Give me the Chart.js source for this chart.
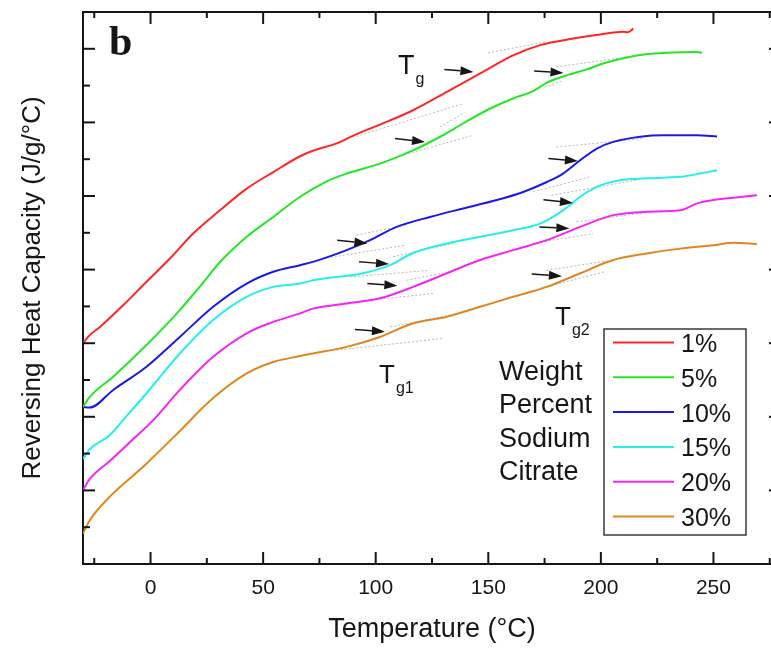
<!DOCTYPE html>
<html>
<head>
<meta charset="utf-8">
<script src="https://cdn.jsdelivr.net/npm/chart.js@4.4.1/dist/chart.umd.min.js"></script>
<style>
  html, body { margin: 0; padding: 0; background: #fff; overflow: hidden; }
  #wrap { width: 782px; height: 649px; }
</style>
</head>
<body>
<div id="wrap"><canvas id="chart" width="782" height="649"></canvas></div>
<script>
// weight percent of sodium citrate, one curve each: [temperature °C, reversing Cp]
const seriesLabels = ['1%', '5%', '10%', '15%', '20%', '30%']
const seriesColors = ['#ff2626', '#26e626', '#1a1ae6', '#26eeee', '#f426f4', '#e0861e']

const cp1 = [[-30, 6.00], [-27, 6.22], [-22.5, 6.44], [-12.2, 7.03], [-1.8, 7.67], [8.6, 8.30], [18.9, 8.98],
  [30.8, 9.61], [42.7, 10.20], [54.5, 10.65], [66.4, 11.08], [72.1, 11.23], [82.7, 11.43], [88.6, 11.60],
  [93, 11.72], [101.9, 11.94], [116.6, 12.33], [131.6, 12.83], [146.4, 13.33], [161, 13.82], [173, 14.10],
  [187.7, 14.28], [199.7, 14.39], [209.9, 14.46], [212.1, 14.45], [214.4, 14.55]]
const cp5 = [[-30, 4.27], [-27, 4.54], [-16.6, 5.09], [-1.8, 5.95], [13, 6.90], [21.9, 7.54], [30.8, 8.20],
  [42.7, 8.89], [54.5, 9.43], [66.4, 9.98], [78.3, 10.40], [87.1, 10.61], [101.9, 10.88], [116.6, 11.24],
  [128.6, 11.61], [138.8, 11.97], [149.3, 12.33], [161, 12.65], [169.9, 12.85], [176, 13.08], [184.9, 13.28],
  [193.8, 13.44], [201, 13.60], [216, 13.82], [229.3, 13.89], [242.7, 13.91], [244.9, 13.89]]
const cp10 = [[-30, 4.27], [-27, 4.25], [-16.6, 4.73], [-1.8, 5.36], [13, 6.17], [27.8, 6.99], [42.7, 7.62],
  [54.5, 7.94], [66.4, 8.12], [72.1, 8.21], [87.1, 8.53], [97.5, 8.80], [109.3, 9.16], [124.1, 9.43],
  [138.8, 9.66], [153.8, 9.89], [165.5, 10.11], [176, 10.38], [183.2, 10.61], [190.8, 10.97], [198.2, 11.29],
  [205.5, 11.47], [217.5, 11.61], [227.7, 11.65], [242.7, 11.65], [251.6, 11.62]]
const cp15 = [[-30, 2.85], [-27, 3.12], [-18.1, 3.50], [-12.2, 3.91], [-1.8, 4.64], [13, 5.72], [27.8, 6.63],
  [42.7, 7.26], [54.5, 7.53], [66.4, 7.62], [72.1, 7.71], [94.4, 7.90], [106.4, 8.12], [116.6, 8.45],
  [131.6, 8.71], [146.4, 8.89], [161, 9.07], [173, 9.25], [183.2, 9.61], [190.8, 9.98], [198.2, 10.25],
  [208.6, 10.43], [220.4, 10.48], [235.2, 10.52], [244.1, 10.61], [251.6, 10.70]]
const cp20 = [[-30, 2.01], [-27, 2.31], [-18.1, 2.80], [-9.2, 3.31], [1.2, 3.91], [13, 4.73], [27.8, 5.63],
  [42.7, 6.27], [54.5, 6.58], [66.4, 6.81], [72.1, 6.94], [87.1, 7.08], [101.9, 7.22], [116.6, 7.53],
  [131.6, 7.90], [146.4, 8.26], [161, 8.53], [176, 8.80], [190.8, 9.16], [205.5, 9.48], [220.4, 9.57],
  [235.2, 9.61], [242.7, 9.80], [249.9, 9.89], [269.3, 10.02]]
const cp30 = [[-30, 0.83], [-27, 1.19], [-18.1, 1.83], [-3.3, 2.64], [11.6, 3.53], [27.8, 4.51], [42.7, 5.18],
  [54.5, 5.49], [66.4, 5.65], [72.1, 5.72], [87.1, 5.90], [101.9, 6.17], [116.6, 6.54], [131.6, 6.72],
  [146.4, 6.99], [161, 7.26], [176, 7.53], [190.8, 7.90], [205.5, 8.26], [220.4, 8.44], [235.2, 8.57],
  [249.9, 8.66], [258.8, 8.73], [269.3, 8.69]]
const curves = [cp1, cp5, cp10, cp15, cp20, cp30]

// dotted tangent construction lines around each transition
const tangentLines = [
  [[149.9, 13.89], [175.9, 14.19]], [[91.5, 11.62], [138.8, 12.51]], [[180.3, 13.51], [212.1, 13.78]],
  [[175.1, 12.96], [182.5, 13.12]], [[109.2, 11.06], [143.3, 11.65]], [[128.5, 11.88], [138.8, 12.24]],
  [[180.3, 11.33], [218.8, 11.56]], [[169.9, 10.11], [195.1, 10.52]], [[178.1, 10.02], [215.8, 10.43]],
  [[76.6, 8.30], [112.9, 8.66]], [[91.5, 8.94], [113.7, 9.21]], [[88.5, 7.80], [124.0, 7.98]],
  [[107.7, 8.35], [134.4, 8.71]], [[84.0, 7.08], [125.5, 7.35]], [[113.7, 7.71], [135.9, 7.98]],
  [[169.9, 8.71], [196.5, 8.98]], [[189.2, 9.30], [227.6, 9.61]], [[82.6, 5.81], [129.9, 6.13]],
  [[106.3, 6.44], [132.9, 6.76]], [[172.9, 7.49], [201.8, 7.94]], [[175.9, 7.98], [205.4, 8.26]]
]

// arrows pointing at the glass transitions
const arrowTails = [[130.5, 13.44], [170.4, 13.40], [108.6, 11.56], [176.7, 11.02], [174.5, 9.90], [82.9, 8.80],
  [92.6, 8.21], [96.3, 7.62], [172.7, 9.16], [90.8, 6.37], [169.3, 7.88]]
const arrowTips = [[143.4, 13.37], [183.4, 13.34], [121.9, 11.47], [189.8, 10.95], [187.6, 9.81], [96.3, 8.71],
  [105.9, 8.15], [109.6, 7.56], [186.0, 9.12], [104.1, 6.31], [182.7, 7.82]]

const xTicks = [0, 50, 100, 150, 200, 250]
const xMinorTicks = [-25, 25, 75, 125, 175, 225, 275]
const yMajorTicks = [0, 2, 4, 6, 8, 10, 12, 14]
const yMinorTicks = [1, 3, 5, 7, 9, 11, 13, 15]
const legendNote = ['Weight', 'Percent', 'Sodium', 'Citrate']

const ink = '#161616'
const sans = '"Liberation Sans", Arial, sans-serif'

const datasets = curves.map((pts, i) => ({
  label: seriesLabels[i],
  data: pts.map(([x, y]) => ({ x, y })),
  borderColor: seriesColors[i],
  borderWidth: 2,
  order: 1
})).concat(tangentLines.map((seg) => ({
  label: 'tangent',
  data: seg.map(([x, y]) => ({ x, y })),
  borderColor: '#b8b8b8',
  borderWidth: 1,
  borderDash: [2, 2],
  cubicInterpolationMode: 'default',
  tension: 0,
  order: 2
})))

const decorations = {
  id: 'decorations',
  afterDatasetsDraw(chart) {
    const { ctx, chartArea: a, scales: { x, y } } = chart
    ctx.save()
    ctx.strokeStyle = ink
    ctx.fillStyle = ink
    ctx.lineWidth = 2

    // top and right frame
    ctx.beginPath()
    ctx.moveTo(a.left, a.top); ctx.lineTo(a.right, a.top); ctx.lineTo(a.right, a.bottom)
    ctx.stroke()

    // inward ticks on all four sides
    const tick = (x1, y1, x2, y2) => { ctx.beginPath(); ctx.moveTo(x1, y1); ctx.lineTo(x2, y2); ctx.stroke() }
    xTicks.forEach(v => { const p = x.getPixelForValue(v); tick(p, a.bottom, p, a.bottom - 12); tick(p, a.top, p, a.top + 12) })
    xMinorTicks.forEach(v => { const p = x.getPixelForValue(v); tick(p, a.bottom, p, a.bottom - 6); tick(p, a.top, p, a.top + 6) })
    yMajorTicks.forEach(v => { const p = y.getPixelForValue(v); tick(a.left, p, a.left + 12, p); tick(a.right, p, a.right - 12, p) })
    yMinorTicks.forEach(v => { const p = y.getPixelForValue(v); tick(a.left, p, a.left + 7, p); tick(a.right, p, a.right - 7, p) })

    // arrows
    arrowTails.forEach((t, i) => {
      const x1 = x.getPixelForValue(t[0]), y1 = y.getPixelForValue(t[1])
      const x2 = x.getPixelForValue(arrowTips[i][0]), y2 = y.getPixelForValue(arrowTips[i][1])
      const ang = Math.atan2(y2 - y1, x2 - x1)
      const head = 13
      ctx.lineWidth = 1.5
      ctx.beginPath()
      ctx.moveTo(x1, y1)
      ctx.lineTo(x2 - head * Math.cos(ang), y2 - head * Math.sin(ang))
      ctx.stroke()
      ctx.beginPath()
      ctx.moveTo(x2, y2)
      ctx.lineTo(x2 - head * Math.cos(ang) + 4.5 * Math.sin(ang), y2 - head * Math.sin(ang) - 4.5 * Math.cos(ang))
      ctx.lineTo(x2 - head * Math.cos(ang) - 4.5 * Math.sin(ang), y2 - head * Math.sin(ang) + 4.5 * Math.cos(ang))
      ctx.closePath()
      ctx.fill()
    })

    // panel letter
    ctx.font = 'bold 42px "Liberation Serif", "Times New Roman", serif'
    ctx.textBaseline = 'alphabetic'
    ctx.textAlign = 'left'
    ctx.fillText('b', 109, 55)

    // transition labels
    const label = (sub, px, py, size) => {
      ctx.font = size + 'px ' + sans
      ctx.fillText('T', px, py)
      const w = ctx.measureText('T').width
      ctx.font = '16px ' + sans
      ctx.fillText(sub, px + w + 1, py + 10)
    }
    label('g', 398, 74, 27)
    label('g2', 555, 325, 26)
    label('g1', 379, 383, 26)

    // legend note
    ctx.font = '27px ' + sans
    legendNote.forEach((t, i) => ctx.fillText(t, 499, 380 + i * 33.4))

    // legend box
    ctx.lineWidth = 1.5
    ctx.strokeStyle = '#3a3a3a'
    ctx.strokeRect(604, 329, 142, 206)
    ctx.font = '25px ' + sans
    seriesLabels.forEach((lab, i) => {
      const cy = 342.5 + i * 34.8
      ctx.strokeStyle = seriesColors[i]
      ctx.lineWidth = 2
      ctx.beginPath(); ctx.moveTo(613, cy); ctx.lineTo(674, cy); ctx.stroke()
      ctx.fillStyle = ink
      ctx.fillText(lab, 681, cy + 9.5)
    })
    ctx.restore()
  }
}

new Chart(document.getElementById('chart'), {
  type: 'line',
  data: { datasets },
  plugins: [decorations],
  options: {
    responsive: false,
    animation: false,
    layout: { padding: { top: 12, right: 1, left: 0, bottom: 0 } },
    elements: {
      point: { radius: 0 },
      line: { cubicInterpolationMode: 'monotone' }
    },
    plugins: {
      legend: { display: false },
      tooltip: { enabled: false }
    },
    scales: {
      x: {
        type: 'linear',
        min: -30,
        max: 280,
        afterBuildTicks: (scale) => { scale.ticks = xTicks.map(v => ({ value: v })) },
        afterFit: (scale) => { scale.height = 85 },
        grid: { display: false },
        border: { display: true, width: 2, color: ink },
        ticks: { color: ink, padding: 4, font: { family: sans, size: 21 } },
        title: {
          display: true,
          text: 'Temperature (°C)',
          color: ink,
          font: { family: sans, size: 27 },
          padding: { top: 0, bottom: 3 }
        }
      },
      y: {
        type: 'linear',
        min: 0,
        max: 15,
        afterFit: (scale) => { scale.width = 83 },
        grid: { display: false },
        border: { display: true, width: 2, color: ink },
        ticks: { display: false },
        title: {
          display: true,
          text: 'Reversing Heat Capacity (J/g/°C)',
          color: ink,
          font: { family: sans, size: 26 },
          padding: { top: 17, bottom: 0 }
        }
      }
    }
  }
})
</script>
</body>
</html>
